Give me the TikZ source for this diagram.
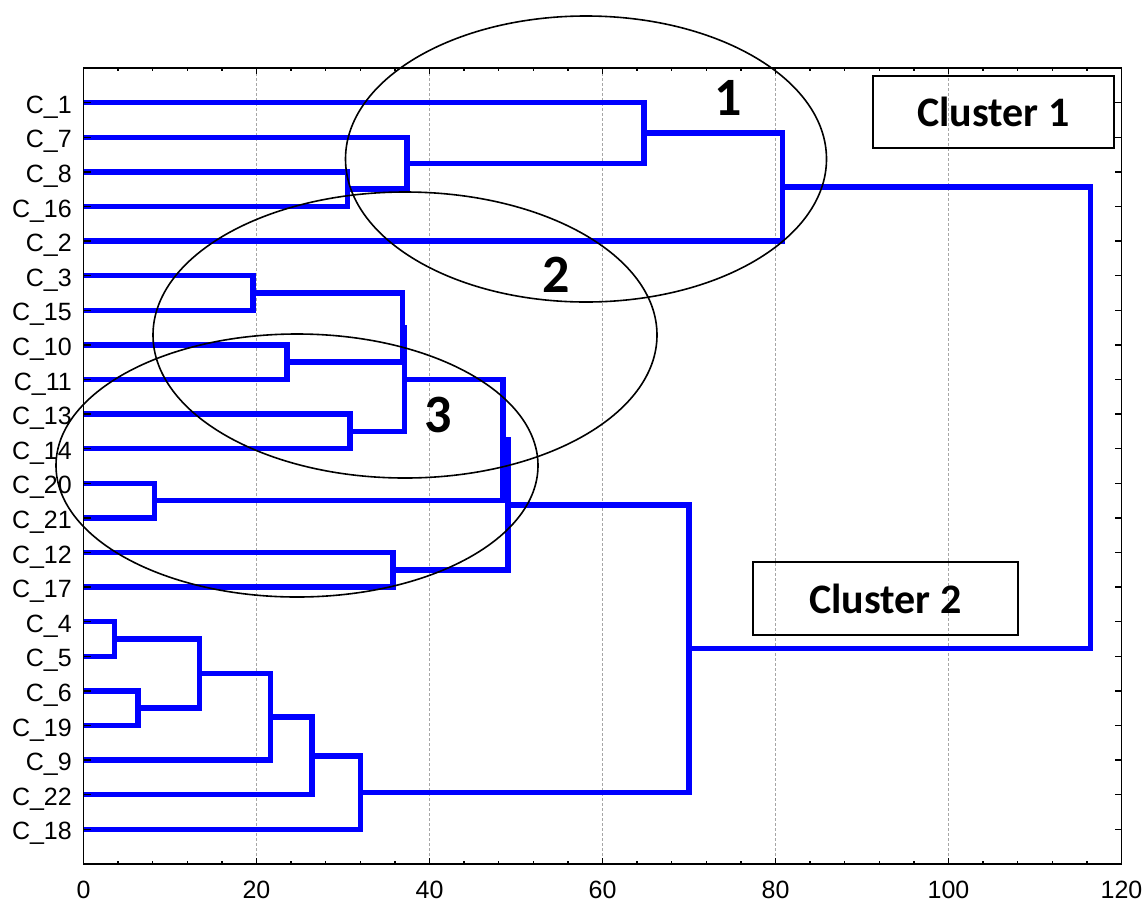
\documentclass[tikz,border=0pt]{standalone}
\usepackage{fontspec}
\setmainfont{Liberation Sans}
\newfontfamily\calib{Carlito}
\begin{document}
\begin{tikzpicture}[x=1pt,y=-1pt,
  dend/.style={draw={rgb,255:red,0;green,0;blue,255},line width=5.5pt,line join=miter},
  axisline/.style={draw=black,line width=1.6pt},
  gridline/.style={draw=black!35,line width=0.8pt,dash pattern=on 3pt off 2pt},
  tickmark/.style={draw=black,line width=1.4pt},
  rowlab/.style={anchor=base east,inner sep=0pt,font=\fontsize{25}{30}\selectfont},
  ticklab/.style={anchor=base,inner sep=0pt,font=\fontsize{25}{30}\selectfont},
  ring/.style={draw=black,line width=1.6pt},
  bignum/.style={inner sep=0pt,font=\calib\bfseries\fontsize{54}{60}\selectfont},
  clusterbox/.style={draw=black,line width=2pt,inner sep=0pt,font=\calib\bfseries\fontsize{42}{48}\selectfont}
]
\useasboundingbox (0,0) rectangle (1148,903);
\begin{scope}[shift={(83.5pt,-102.7pt)},x=8.65pt,y=-34.6pt]
  % grid
  \foreach \u in {20,40,...,100} \draw[gridline] (\u,-1) -- (\u,22);
  % leaves and row labels
  \foreach \n [count=\i from 0] in {1,7,8,16,2,3,15,10,11,13,14,20,21,12,17,4,5,6,19,9,22,18} {
    \coordinate (C\n) at (0,\i);
    \node[rowlab] (L\n) at ([xshift=-11.5pt,yshift=-10.6pt]C\n) {C\_\n};
  }
  % merge points
  \coordinate (m1) at (30.5,2.5);
  \coordinate (m2) at (37.4,1.75);
  \coordinate (m3) at (64.8,0.875);
  \coordinate (m4) at (80.8,2.4375);
  \coordinate (m5) at (19.6,5.5);
  \coordinate (m6) at (23.5,7.5);
  \coordinate (m7) at (30.8,9.5);
  \coordinate (m8) at (36.9,6.5);
  \coordinate (m9) at (37.1,8.0);
  \coordinate (m10) at (8.2,11.5);
  \coordinate (m11) at (48.5,9.75);
  \coordinate (m12) at (35.8,13.5);
  \coordinate (m13) at (49.1,11.625);
  \coordinate (m14) at (3.6,15.5);
  \coordinate (m15) at (6.3,17.5);
  \coordinate (m16) at (13.4,16.5);
  \coordinate (m17) at (21.6,17.75);
  \coordinate (m18) at (26.4,18.875);
  \coordinate (m19) at (32.0,19.9375);
  \coordinate (m20) at (70.0,15.78125);
  \coordinate (m21) at (116.4,9.109375);
  % dendrogram
  \draw[dend] (C8) -| (m1) |- (C16);
  \draw[dend] (C7) -| (m2) |- (m1);
  \draw[dend] (C1) -| (m3) |- (m2);
  \draw[dend] (m3) -| (m4) |- (C2);
  \draw[dend] (C3) -| (m5) |- (C15);
  \draw[dend] (C10) -| (m6) |- (C11);
  \draw[dend] (C13) -| (m7) |- (C14);
  \draw[dend] (m5) -| (m8) |- (m6);
  \draw[dend] (m8) -| (m9) |- (m7);
  \draw[dend] (C20) -| (m10) |- (C21);
  \draw[dend] (m9) -| (m11) |- (m10);
  \draw[dend] (C12) -| (m12) |- (C17);
  \draw[dend] (m11) -| (m13) |- (m12);
  \draw[dend] (C4) -| (m14) |- (C5);
  \draw[dend] (C6) -| (m15) |- (C19);
  \draw[dend] (m14) -| (m16) |- (m15);
  \draw[dend] (m16) -| (m17) |- (C9);
  \draw[dend] (m17) -| (m18) |- (C22);
  \draw[dend] (m18) -| (m19) |- (C18);
  \draw[dend] (m13) -| (m20) |- (m19);
  \draw[dend] (m4) -| (m21) |- (m20);
  % frame
  \draw[axisline] (0,-1) rectangle (120,22);
  % ticks
  \foreach \u in {4,8,...,116} {
    \draw[tickmark] (\u,22) -- ++(0pt,3pt);
    \draw[tickmark] (\u,-1) -- ++(0pt,-3pt);
  }
  \foreach \u in {0,20,...,120} {
    \draw[tickmark] (\u,22) -- ++(0pt,6pt);
    \draw[tickmark] (\u,-1) -- ++(0pt,-6pt);
    \node[ticklab] (T\u) at ([yshift=-35pt]\u,22) {\u};
  }
  \foreach \i in {0,...,21} {
    \draw[tickmark] (0,\i) -- ++(7pt,0pt);
    \draw[tickmark] (120,\i) -- ++(-7pt,0pt);
  }
\end{scope}
% ellipses
\draw[ring] (586,159) ellipse [x radius=240.5, y radius=143];
\draw[ring] (405,335) ellipse [x radius=252, y radius=143];
\draw[ring] (297,465.5) ellipse [x radius=241, y radius=131.5];
% numbers
\node[bignum] (n1) at (728,98) {1};
\node[bignum] (n2) at (556,275) {2};
\node[bignum] (n3) at (438,415) {3};
% cluster boxes
\node[clusterbox,minimum width=241pt,minimum height=72pt] (cl1) at (993.5,112) {Cluster 1};
\node[clusterbox,minimum width=265pt,minimum height=73pt] (cl2) at (885.5,598.5) {Cluster 2};
\end{tikzpicture}
\end{document}
